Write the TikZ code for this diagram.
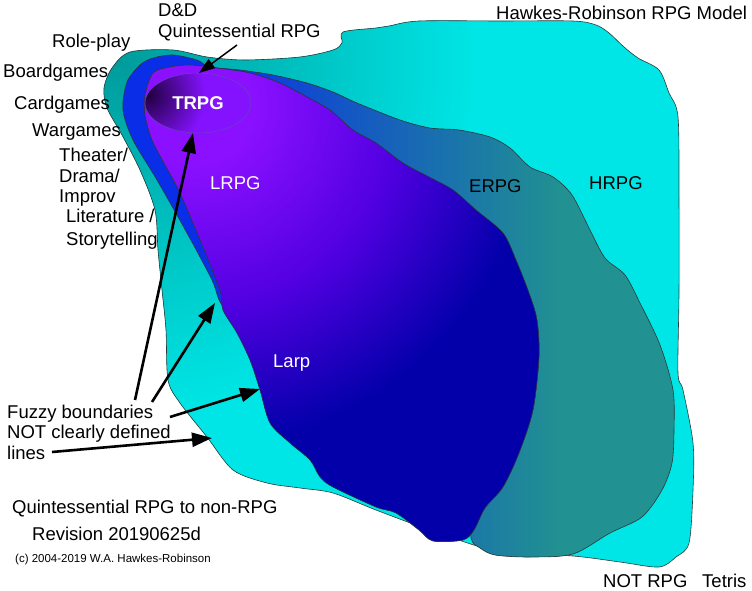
\documentclass[tikz,border=0pt]{standalone}
\usepackage{fontspec}
\setmainfont{Liberation Sans}
\usetikzlibrary{arrows.meta}

\definecolor{hrcyan}{HTML}{00E6E6}
\definecolor{hrdark}{HTML}{009C9C}
\definecolor{erblue}{HTML}{0A2EE8}
\definecolor{ermid}{HTML}{1560B5}
\definecolor{erteal}{HTML}{219191}
\definecolor{lrtop}{HTML}{8A10FF}
\definecolor{lrmid}{HTML}{5200E2}
\definecolor{lrdeep}{HTML}{0300AA}
\definecolor{trpurple}{HTML}{8512FF}
\definecolor{trdark}{HTML}{200040}
\definecolor{trline}{HTML}{6A3FC0}
\definecolor{edge}{HTML}{2A3A3A}

% radii in bp = pixels, used at natural size
\pgfdeclareradialshading{hrpgglow}{\pgfpointorigin}{color(0bp)=(hrdark); color(360bp)=(hrcyan); color(370bp)=(hrcyan)}
\pgfdeclareradialshading{lrpgglow}{\pgfpointorigin}{color(0bp)=(lrtop); color(60bp)=(lrtop); color(200bp)=(lrmid); color(340bp)=(lrdeep); color(520bp)=(lrdeep)}
\pgfdeclareradialshading{trpgglow}{\pgfpointorigin}{color(0bp)=(trdark); color(58bp)=(trpurple); color(64bp)=(trpurple)}

\tikzset{
  blob/.style={draw=edge, line width=0.6bp},
  glow/.style={inner sep=0pt, outer sep=0pt},
  lbl/.style={anchor=base west, inner sep=0pt, font=\fontsize{18.5bp}{21bp}\selectfont},
  fuzzy/.style={line width=2.6bp, -{Triangle[length=20bp,width=14bp]}},
}

\begin{document}
\begin{tikzpicture}[x=1bp,y=-1bp]
	\useasboundingbox (0,0) rectangle (752,591);

	% HRPG
	\path[blob, fill=hrcyan, path picture={\node[glow] (hrglow) at (120,60) {\pgfuseshading{hrpgglow}};}]
		plot[smooth cycle, tension=0.5] coordinates {(130,52) (173,50) (207,57) (245,60) (300,57) (333,50) (342,43) (343,32) (376,28) (389,26) (419,21) (500,21) (573,21) (596,25) (609,33) (624,47) (638,58) (659,70) (669,93) (678,117) (679,200) (679,293) (678,373) (683,390) (693,443) (693,490) (689,543) (676,557) (659,567) (620,562) (573,556) (500,552) (430,530) (376,510) (333,493) (300,488) (267,483) (233,470) (207,437) (180,403) (168,380) (166,330) (162,290) (158,250) (155,210) (140,170) (122,135) (107,108) (104,88) (112,68)};

	% ERPG
	\path[blob, fill=erteal, path picture={\fill[erblue] (100,0) rectangle (200,591); \shade[left color=erblue, middle color=ermid, right color=erteal] (199.5,0) rectangle (560,591);}]
		plot[smooth cycle, tension=0.5] coordinates {(153,58) (173,55) (197,60) (210,67) (240,70) (273,75) (307,83) (333,92) (357,103) (400,120) (430,128) (459,130) (490,137) (510,148) (530,167) (553,177) (572,195) (590,230) (605,258) (625,275) (640,303) (660,345) (673,390) (674,430) (672,463) (662,490) (642,517) (610,533) (573,554) (530,557) (495,555) (480,548) (471,538) (470,500) (420,420) (330,360) (250,330) (222,305) (212,280) (187,233) (157,180) (133,140) (123,110) (127,82) (140,65)};

	% LRPG
	\path[blob, fill=lrdeep, path picture={\node[glow] (lrglow) at (195,105) {\pgfuseshading{lrpgglow}};}]
		plot[smooth cycle, tension=0.5] coordinates {(153,73) (170,67) (190,65) (217,68) (250,73) (280,83) (307,97) (330,110) (353,130) (376,143) (403,163) (429,177) (453,190) (476,210) (503,233) (516,260) (529,293) (537,320) (539,357) (533,410) (519,453) (503,487) (485,508) (474,530) (463,540) (433,541) (419,530) (396,513) (376,507) (333,487) (320,477) (310,460) (290,443) (270,423) (260,390) (250,360) (237,333) (223,310) (220,290) (200,240) (180,193) (165,165) (152,140) (145,115) (145,95)};

	% TRPG
	\path[draw=trline, line width=0.6bp, fill=trpurple, path picture={\node[glow] (trglow) at (148,95) {\pgfuseshading{trpgglow}};}]
		(198,103) ellipse [x radius=53, y radius=30];

	\node[lbl, anchor=base, text=white, font=\fontsize{18.5bp}{21bp}\bfseries] (trpg) at (198,110) {TRPG};
	\node[lbl, text=white] (lrpg) at (210,190) {LRPG};
	\node[lbl, text=white] (larp) at (273,367) {Larp};
	\node[lbl] (erpg) at (469,193) {ERPG};
	\node[lbl] (hrpg) at (589,190) {HRPG};
	\node[lbl] (title) at (496,20) {Hawkes-Robinson RPG Model};

	\node[lbl] (dnd) at (158,17) {D\&D};
	\node[lbl] (quint) at (158,38) {Quintessential RPG};
	\node[lbl] (roleplay) at (52,48) {Role-play};
	\node[lbl] (board) at (3,78) {Boardgames};
	\node[lbl] (card) at (14,110) {Cardgames};
	\node[lbl] (war) at (32,137) {Wargames};
	\node[lbl] (theater) at (59,162) {Theater/};
	\node[lbl] (drama) at (59,183) {Drama/};
	\node[lbl] (improv) at (59,203) {Improv};
	\node[lbl] (lit) at (66,223) {Literature /};
	\node[lbl] (story) at (66,245) {Storytelling};

	\node[lbl] (fuzzy) at (7,418) {Fuzzy boundaries};
	\node[lbl] (notclear) at (7,438) {NOT clearly defined};
	\node[lbl] (lines) at (7,459) {lines};

	\node[lbl] (spectrum) at (12,513) {Quintessential RPG to non-RPG};
	\node[lbl] (revision) at (32,540) {Revision 20190625d};
	\node[lbl, font=\fontsize{11.5bp}{13bp}\selectfont] (copyright) at (15,562) {(c) 2004-2019 W.A. Hawkes-Robinson};
	\node[lbl] (notrpg) at (603,587) {NOT RPG};
	\node[lbl] (tetris) at (702,587) {Tetris};

	% arrows
	\coordinate (dndtail) at (237,45);
	\coordinate (dndtip) at (199,73);
	\draw[line width=1.5bp, -{Triangle[length=16bp,width=11bp]}] (dndtail) -- (dndtip);

	\coordinate (tailA) at (135,400);
	\coordinate (tipA) at (193,133);
	\coordinate (tailB) at (152,402);
	\coordinate (tipB) at (215,303);
	\coordinate (tailC) at (170,417);
	\coordinate (tipC) at (260,389);
	\coordinate (tailD) at (52,452);
	\coordinate (tipD) at (212,438);
	\foreach \from/\to in {tailA/tipA, tailB/tipB, tailC/tipC, tailD/tipD}
		\draw[fuzzy] (\from) -- (\to);
\end{tikzpicture}
\end{document}
